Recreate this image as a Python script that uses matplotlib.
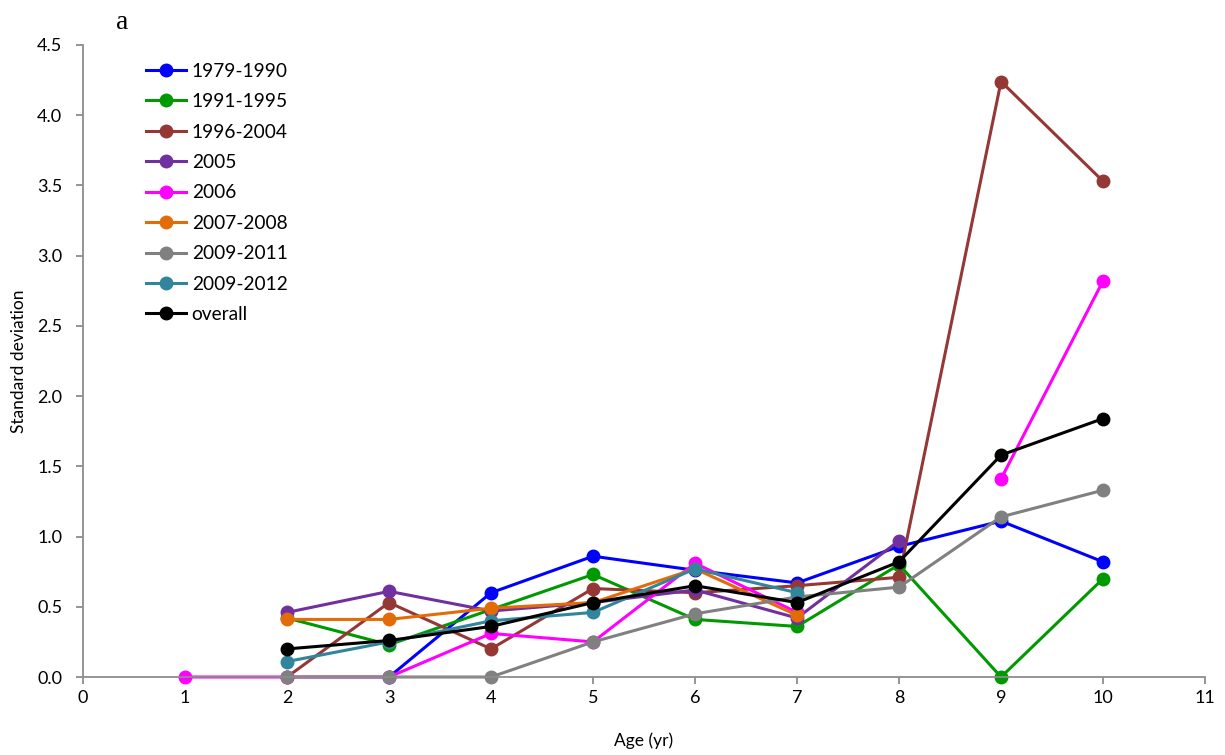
import numpy as np
import matplotlib.pyplot as plt

nan = np.nan

# age classes (yr)
ages = [1, 2, 3, 4, 5, 6, 7, 8, 9, 10]

# standard deviation per period, NaN = no data
sd_1979_1990 = [nan, nan, 0.00, 0.60, 0.86, 0.76, 0.67, 0.93, 1.11, 0.82]
sd_1991_1995 = [nan, 0.42, 0.23, 0.48, 0.73, 0.41, 0.36, 0.80, 0.00, 0.70]
sd_1996_2004 = [nan, 0.00, 0.53, 0.20, 0.63, 0.60, 0.65, 0.71, 4.24, 3.53]
sd_2005 = [nan, 0.46, 0.61, 0.47, 0.53, 0.62, 0.42, 0.97, nan, nan]
sd_2006 = [0.00, 0.00, 0.00, 0.31, 0.25, 0.81, 0.46, nan, 1.41, 2.82]
sd_2007_2008 = [nan, 0.41, 0.41, 0.49, 0.53, 0.77, 0.44, nan, nan, nan]
sd_2009_2011 = [nan, 0.00, 0.00, 0.00, 0.25, 0.45, 0.57, 0.64, 1.14, 1.33]
sd_2009_2012 = [nan, 0.11, 0.25, 0.40, 0.46, 0.77, 0.60, nan, nan, nan]
sd_overall = [nan, 0.20, 0.26, 0.36, 0.53, 0.65, 0.53, 0.82, 1.58, 1.84]

labels = ["1979-1990", "1991-1995", "1996-2004", "2005", "2006",
          "2007-2008", "2009-2011", "2009-2012", "overall"]
colors = ["#0000FF", "#009A00", "#953735", "#7030A0", "#FF00FF",
          "#E36C09", "#808080", "#31859C", "#000000"]
series = [sd_1979_1990, sd_1991_1995, sd_1996_2004, sd_2005, sd_2006,
          sd_2007_2008, sd_2009_2011, sd_2009_2012, sd_overall]

plt.rcParams['font.family'] = ['Lato', 'DejaVu Sans']

fig = plt.figure(figsize=(12.25, 7.55), dpi=100)
ax = fig.add_axes([0.0678, 0.1033, 0.9159, 0.8371])

for vals, lab, col in zip(series, labels, colors):
    ax.plot(ages, vals, color=col, lw=2.2, marker='o', markersize=9,
            label=lab, clip_on=False)

ax.set_xlim(0, 11)
ax.set_ylim(0, 4.5)
ax.set_xticks(range(0, 12))
ax.set_yticks(np.arange(0, 4.51, 0.5))
ax.set_yticklabels([f"{v:.1f}" for v in np.arange(0, 4.51, 0.5)])

for side in ['top', 'right']:
    ax.spines[side].set_visible(False)
for side in ['left', 'bottom']:
    ax.spines[side].set_color('#8C8C8C')
    ax.spines[side].set_linewidth(1.3)
ax.tick_params(axis='both', colors='#8C8C8C', labelcolor='black',
               labelsize=13, length=5, width=1.3, direction='out')
ax.tick_params(axis='x', pad=4)
ax.tick_params(axis='y', pad=10)

ax.set_xlabel("Age (yr)", fontsize=12.5)
ax.set_ylabel("Standard deviation", fontsize=12.5)
ax.xaxis.set_label_coords(0.5, -0.088)
ax.yaxis.set_label_coords(-0.05, 0.5)

fig.text(0.1, 0.97, "a", family='Liberation Serif', fontsize=20,
         va='center', ha='center')

ax.legend(loc='upper left', bbox_to_anchor=(0.049, 0.984), frameon=False,
          fontsize=13.8, handlelength=2.1, handletextpad=0.3,
          labelspacing=0.70, borderaxespad=0)

fig.savefig("out.png", dpi=100)
